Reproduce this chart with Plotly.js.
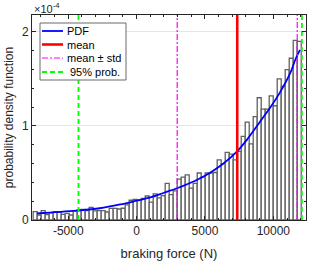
<!DOCTYPE html>
<html>
<head>
<meta charset="utf-8">
<script src="https://cdn.plot.ly/plotly-3.0.1.min.js"></script>
<style>html,body{margin:0;padding:0;background:#fff;}#chart{width:311px;height:263px;}</style>
</head>
<body>
<div id="chart"></div>
<script>
// Histogram of braking force (N); density values in units of 1e-4
var binStart = -7564;   // left edge of first bin (N)
var binWidth = 292.6;   // bin width (N)
var densityE4 = [
  0.089, 0.053, 0.10, 0.057, 0.078, 0.089, 0.085, 0.06, 0.071, 0.053,
  0.096, 0.107, 0.114, 0.10, 0.135, 0.096, 0.10, 0.10, 0.085, 0.124,
  0.124, 0.117, 0.125, 0.16, 0.21, 0.22, 0.215, 0.23, 0.255, 0.19,
  0.277, 0.235, 0.26, 0.39, 0.27, 0.31, 0.435, 0.455, 0.48, 0.34,
  0.39, 0.50, 0.46, 0.50, 0.50, 0.505, 0.64, 0.60, 0.72, 0.70,
  0.64, 0.73, 0.89, 1.04, 0.81, 1.10, 1.30, 1.18, 1.18, 1.32,
  1.215, 1.50, 1.42, 1.60, 1.72, 1.91, 1.90
];
// Fitted PDF curve
var pdfX = [-7300, -4400, -2700, -1200, 0, 1000, 2000, 3000, 4250, 5350, 6350, 7350, 8050, 9000, 9750, 10500, 11200, 11650, 11950];
var pdfY = [0.07, 0.10, 0.125, 0.165, 0.205, 0.24, 0.29, 0.34, 0.415, 0.50, 0.60, 0.73, 0.85, 1.04, 1.19, 1.36, 1.55, 1.72, 1.81];
// Statistics
var meanForce = 7360;
var stdForce = 4390;
var prob95 = [-4250, 12090];
var yTop = 2.18;
var xTicks = [-5000, 0, 5000, 10000];
var xTickText = ['-5000', '0', '5000', '10000'];
var yTicks = [0, 1, 2];
var yTickText = ['0', '1', '2'];
var legendNames = ['PDF', 'mean', 'mean \u00b1 std', '95% prob.'];

var binCenters = densityE4.map(function(_, i){ return binStart + binWidth * (i + 0.5); });

var fam = 'Liberation Sans, Arial, sans-serif';
var styles = [
  {color: '#0000ff', width: 1.8, dash: 'solid'},
  {color: '#ff0000', width: 2.6, dash: 'solid'},
  {color: '#ff00ff', width: 1.2, dash: '6px,2px,2px,2px'},
  {color: '#00ff00', width: 1.8, dash: '5px,3px'}
];

var traces = [
  {type: 'bar', x: binCenters, y: densityE4, width: binWidth, showlegend: false,
   marker: {color: '#ffffff', line: {color: '#606060', width: 1.3}}, hoverinfo: 'skip'},
  {type: 'scatter', mode: 'lines', x: pdfX, y: pdfY, name: legendNames[0], showlegend: false,
   line: {color: styles[0].color, width: styles[0].width, shape: 'spline', smoothing: 1}},
  {type: 'scatter', mode: 'lines', x: [meanForce, meanForce], y: [0, yTop], name: legendNames[1], showlegend: false,
   line: styles[1]},
  {type: 'scatter', mode: 'lines', x: [meanForce - stdForce, meanForce - stdForce, null, meanForce + stdForce, meanForce + stdForce],
   y: [0, yTop, null, 0, yTop], name: legendNames[2], connectgaps: false, showlegend: false,
   line: styles[2]},
  {type: 'scatter', mode: 'lines', x: [prob95[0], prob95[0], null, prob95[1], prob95[1]],
   y: [0, yTop, null, 0, yTop], name: legendNames[3], connectgaps: false, showlegend: false,
   line: styles[3]}
];

// Legend drawn as box + sample lines + labels (paper coordinates)
var plotL = 32, plotT = 15, plotW = 274, plotH = 205;
function px2x(p){ return (p - plotL) / plotW; }
function px2y(p){ return (plotT + plotH - p) / plotH; }
var shapes = [{type: 'rect', xref: 'paper', yref: 'paper', layer: 'above',
  x0: px2x(40), x1: px2x(126), y0: px2y(80), y1: px2y(23),
  fillcolor: '#ffffff', line: {color: '#6a6a6a', width: 1}}];
var annotations = [{xref: 'paper', yref: 'paper', x: 0, y: 1, xanchor: 'left', yanchor: 'bottom',
    text: '\u00d710<sup>-4</sup>', showarrow: false, font: {family: fam, size: 11, color: '#262626'}, yshift: -2}];
var rowY = [31, 44.5, 58, 72];
legendNames.forEach(function(n, i){
  shapes.push({type: 'line', xref: 'paper', yref: 'paper', layer: 'above',
    x0: px2x(42), x1: px2x(63), y0: px2y(rowY[i]), y1: px2y(rowY[i]),
    line: {color: styles[i].color, width: styles[i].width, dash: styles[i].dash}});
  annotations.push({xref: 'paper', yref: 'paper', x: px2x(65), y: px2y(rowY[i]), xanchor: 'left', yanchor: 'middle',
    text: n, showarrow: false, xshift: (i === 3 ? 3 : 0), font: {family: fam, size: 11, color: '#000000'}});
});

var layout = {
  width: 311, height: 263,
  margin: {l: plotL, r: 311 - plotL - plotW, t: plotT, b: 263 - plotT - plotH, pad: 0},
  paper_bgcolor: '#ffffff', plot_bgcolor: '#ffffff',
  bargap: 0,
  font: {family: fam, color: '#262626', size: 12},
  showlegend: false,
  xaxis: {range: [-7650, 12390], tickvals: xTicks, ticktext: xTickText,
    ticks: 'inside', ticklen: 4, tickcolor: '#262626', showline: true, linecolor: '#262626', linewidth: 1,
    mirror: 'ticks', showgrid: false, zeroline: false,
    tickfont: {size: 12, color: '#262626'},
    minor: {dtick: 1000, tick0: 0, ticks: 'inside', ticklen: 2, tickcolor: '#262626', showgrid: false},
    title: {text: 'braking force (N)', font: {size: 13, color: '#262626'}, standoff: 11}},
  yaxis: {range: [0, yTop], tickvals: yTicks, ticktext: yTickText,
    ticks: 'inside', ticklen: 4, tickcolor: '#262626', showline: true, linecolor: '#262626', linewidth: 1,
    mirror: 'ticks', showgrid: true, gridcolor: '#e6e6e6', zeroline: false,
    tickfont: {size: 12, color: '#262626'},
    minor: {dtick: 0.2, tick0: 0, ticks: 'inside', ticklen: 2, tickcolor: '#262626', showgrid: false},
    title: {text: 'probability density function', font: {size: 12, color: '#262626'}, standoff: 5}},
  shapes: shapes,
  annotations: annotations
};

Plotly.newPlot('chart', traces, layout, {displayModeBar: false, staticPlot: true});
</script>
</body>
</html>
